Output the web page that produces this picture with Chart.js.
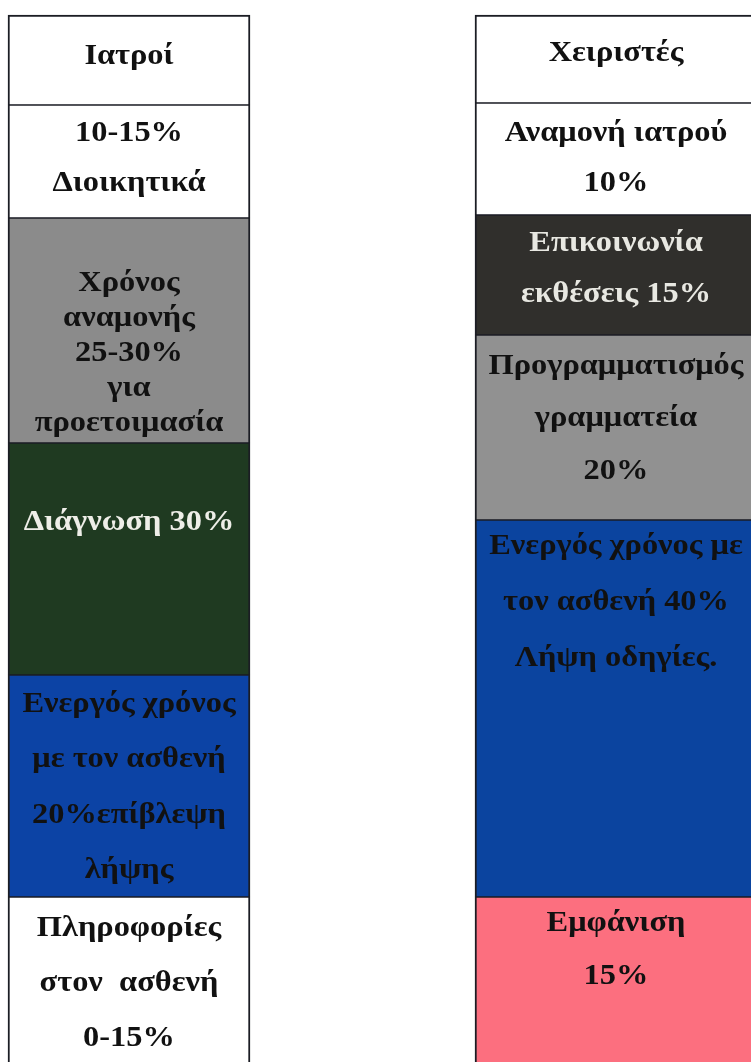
<!DOCTYPE html>
<html>
<head>
<meta charset="utf-8">
<script src="https://cdn.jsdelivr.net/npm/chart.js@4"></script>
<style>
  html, body { margin: 0; padding: 0; background: #ffffff; }
  #wrap { width: 751px; height: 1062px; position: relative; }
</style>
</head>
<body>
<div id="wrap"><canvas id="c" width="751" height="1062"></canvas></div>
<script>
// ---- data (segments listed top to bottom) ----
const categories = ['Ιατροί', 'Χειριστές'];

const doctorLabels = [
  ['Ιατροί'],
  ['10-15%', 'Διοικητικά'],
  ['Χρόνος', 'αναμονής', '25-30%', 'για', 'προετοιμασία'],
  ['Διάγνωση 30%'],
  ['Ενεργός χρόνος', 'με τον ασθενή', '20%επίβλεψη', 'λήψης'],
  ['Πληροφορίες', 'στον  ασθενή', '0-15%']
];
// segment sizes as drawn (header first)
const doctorSizes = [90, 113, 225, 232, 222, 165];

const operatorLabels = [
  ['Χειριστές'],
  ['Αναμονή ιατρού', '10%'],
  ['Επικοινωνία', 'εκθέσεις 15%'],
  ['Προγραμματισμός', 'γραμματεία', '20%'],
  ['Ενεργός χρόνος με', 'τον ασθενή 40%', 'Λήψη οδηγίες.'],
  ['Εμφάνιση', '15%']
];
const operatorSizes = [88, 112, 120, 185, 377, 165];

// ---- styles ----
const doctorColors = ['#ffffff', '#ffffff', '#8b8b8b', '#1f3a21', '#0c43a5', '#ffffff'];
const operatorColors = ['#ffffff', '#ffffff', '#302f2c', '#919191', '#0b449f', '#fc6f7f'];
const doctorTextColors = ['#111', '#111', '#111', '#eeeee8', '#111', '#111'];
const operatorTextColors = ['#111', '#111', '#e8e8e2', '#111', '#111', '#111'];
// first-line offset from segment top, and line spacing (px)
const doctorTextLayout = [[41, 0], [28, 50], [65, 35], [79, 0], [29, 55.5], [31, 55]];
const operatorTextLayout = [[38, 0], [30, 50], [28, 51], [31, 52.5], [26, 56], [26, 53]];
const columnWidths = [242, 282];
const textStretch = 1.08;

function buildDatasets() {
  const cols = [
    { sizes: doctorSizes, labels: doctorLabels, colors: doctorColors, tcolors: doctorTextColors, layout: doctorTextLayout },
    { sizes: operatorSizes, labels: operatorLabels, colors: operatorColors, tcolors: operatorTextColors, layout: operatorTextLayout }
  ];
  const out = [];
  cols.forEach((col, ci) => {
    const n = col.sizes.length;
    // stacking goes bottom-up, so walk segments in reverse
    for (let i = n - 1; i >= 0; i--) {
      const data = categories.map((_, k) => (k === ci ? col.sizes[i] : null));
      out.push({
        data,
        colIndex: ci,
        lines: col.labels[i],
        textColor: col.tcolors[i],
        textOffset: col.layout[i][0],
        lineGap: col.layout[i][1],
        backgroundColor: col.colors[i],
        borderColor: '#1b1d24',
        borderWidth: { left: 2, right: 2, top: i === 0 ? 2 : 1, bottom: i === n - 1 ? 0 : 1 },
        borderSkipped: false,
        barThickness: columnWidths[ci],
        clip: false
      });
    }
  });
  return out;
}

const segmentLabelPlugin = {
  id: 'segmentLabels',
  afterDatasetsDraw(chart) {
    const ctx = chart.ctx;
    chart.data.datasets.forEach((ds, di) => {
      const el = chart.getDatasetMeta(di).data[ds.colIndex];
      if (!el) return;
      const p = el.getProps(['x', 'y', 'base'], true);
      const top = Math.min(p.y, p.base);
      ds.lines.forEach((line, li) => {
        ctx.save();
        ctx.font = 'bold 30px "Liberation Serif", "DejaVu Serif", serif';
        ctx.fillStyle = ds.textColor;
        ctx.textAlign = 'center';
        ctx.textBaseline = 'middle';
        ctx.translate(p.x, top + ds.textOffset + li * ds.lineGap);
        ctx.scale(textStretch, 1);
        ctx.fillText(line, 0, 0);
        ctx.restore();
      });
    });
  }
};

new Chart(document.getElementById('c'), {
  type: 'bar',
  data: { labels: categories, datasets: buildDatasets() },
  options: {
    responsive: false,
    animation: false,
    layout: { padding: { left: 129, right: 135, top: 15, bottom: 0 } },
    plugins: { legend: { display: false }, tooltip: { enabled: false } },
    scales: {
      x: { type: 'category', stacked: true, offset: false, display: false },
      y: { stacked: true, min: 0, max: 1047, display: false }
    }
  },
  plugins: [segmentLabelPlugin]
});
</script>
</body>
</html>
